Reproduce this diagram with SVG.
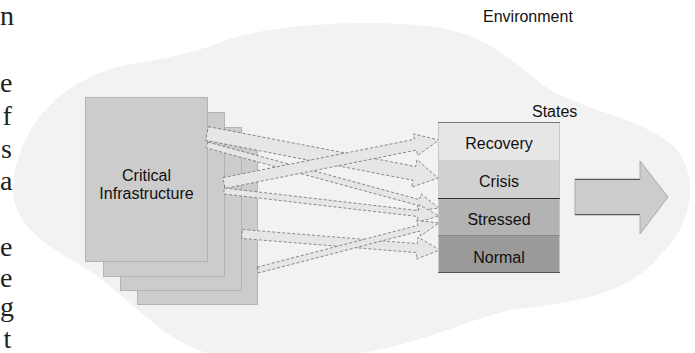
<svg xmlns="http://www.w3.org/2000/svg" width="695" height="353" viewBox="0 0 695 353">
  <style>
    .lbl { font-family: "Liberation Sans", Arial, sans-serif; font-size: 16px; fill: #111; }
    .mid { text-anchor: middle; }
    .page { font-family: "Liberation Serif", "Times New Roman", serif; font-size: 28px; fill: #222; }
    .box { fill: #cccccc; stroke: #b3b3b3; stroke-width: 1; }
    .flow { fill: #e6e6e6; stroke: #666; stroke-width: 0.7; stroke-dasharray: 3 2; }
  </style>
  <rect width="695" height="353" fill="#ffffff"/>

  <g id="page-text">
    <text class="page" x="0" y="25">n</text>
    <text class="page" x="0" y="92">e</text>
    <text class="page" x="2.5" y="125">f</text>
    <text class="page" x="1" y="158">s</text>
    <text class="page" x="0" y="190">a</text>
    <text class="page" x="0" y="256">e</text>
    <text class="page" x="0" y="287">e</text>
    <text class="page" x="0" y="316">g</text>
    <text class="page" x="3.5" y="348">t</text>
  </g>

  <g id="environment">
    <path d="M13,195 C13,130 60,78 130,64 C175,57 195,52 230,39 C280,22 400,18 450,30 C500,42 520,70 550,90 C590,112 640,118 672,145 C700,170 695,225 660,255 C630,295 570,303 510,310 C460,322 420,345 350,355 L215,355 C170,345 140,310 100,278 C70,255 20,240 13,195 Z" fill="#f2f2f2"/>
    <text class="lbl" x="483" y="22">Environment</text>
  </g>

  <g id="critical-infrastructure">
    <rect class="box" x="137.5" y="142.5" width="120" height="162"/>
    <rect class="box" x="120.5" y="127.5" width="121" height="163"/>
    <rect class="box" x="103.5" y="112.5" width="121" height="164"/>
    <rect class="box" x="85.5" y="97.5" width="122" height="164"/>
    <text class="lbl mid" x="146.5" y="181">Critical</text>
    <text class="lbl mid" x="146.5" y="199">Infrastructure</text>
  </g>

  <g id="connectors">
    <path class="flow" transform="translate(207,133.5) rotate(10.9)" d="M0,-7 L211.2,-7 L211.2,-14 L235.2,0 L211.2,14 L211.2,7 L0,7 Z"/>
    <path class="flow" transform="translate(207,145) rotate(15.19)" d="M0,-3 L219.4,-3 L219.4,-9 L240.4,0 L219.4,9 L219.4,3 L0,3 Z"/>
    <path class="flow" transform="translate(224,183) rotate(-11.31)" d="M0,-5.5 L195.3,-5.5 L195.3,-11 L219.3,0 L195.3,11 L195.3,5.5 L0,5.5 Z"/>
    <path class="flow" transform="translate(224,191) rotate(6.63)" d="M0,-3 L195.4,-3 L195.4,-9 L216.4,0 L195.4,9 L195.4,3 L0,3 Z"/>
    <path class="flow" transform="translate(242,234) rotate(4.62)" d="M0,-4.5 L175.6,-4.5 L175.6,-11 L198.6,0 L175.6,11 L175.6,4.5 L0,4.5 Z"/>
    <path class="flow" transform="translate(258,270) rotate(-14.56)" d="M0,-3 L166,-3 L166,-8 L187,0 L166,8 L166,3 L0,3 Z"/>
  </g>

  <g id="states">
    <text class="lbl" x="532" y="117">States</text>
    <rect x="438" y="122" width="122" height="38" fill="#e6e6e6"/>
    <rect x="438" y="160" width="122" height="38" fill="#d1d1d1"/>
    <rect x="438" y="198" width="122" height="37" fill="#b3b3b3"/>
    <rect x="438" y="235" width="122" height="38" fill="#9a9a9a"/>
    <rect x="438.5" y="122.5" width="121" height="150" fill="none" stroke="#c8c8c8" stroke-width="1"/>
    <line x1="438" y1="122.5" x2="560" y2="122.5" stroke="#777" stroke-width="1"/>
    <line x1="438" y1="198.5" x2="560" y2="198.5" stroke="#333" stroke-width="1"/>
    <line x1="438" y1="235.5" x2="560" y2="235.5" stroke="#8a8a8a" stroke-width="1"/>
    <line x1="438" y1="272.5" x2="560" y2="272.5" stroke="#555" stroke-width="1"/>
    <text class="lbl mid" x="499" y="149">Recovery</text>
    <text class="lbl mid" x="499" y="187">Crisis</text>
    <text class="lbl mid" x="499" y="225">Stressed</text>
    <text class="lbl mid" x="499" y="263">Normal</text>
  </g>

  <g id="output-arrow">
    <path d="M575,179 L640,179 L640,161 L668,197 L640,234 L640,215 L575,215 Z" fill="#cccccc" stroke="#aaaaaa" stroke-width="1"/>
    <line x1="575" y1="179.5" x2="640" y2="179.5" stroke="#555" stroke-width="1"/>
    <line x1="575" y1="214.5" x2="640" y2="214.5" stroke="#555" stroke-width="1"/>
  </g>
</svg>
